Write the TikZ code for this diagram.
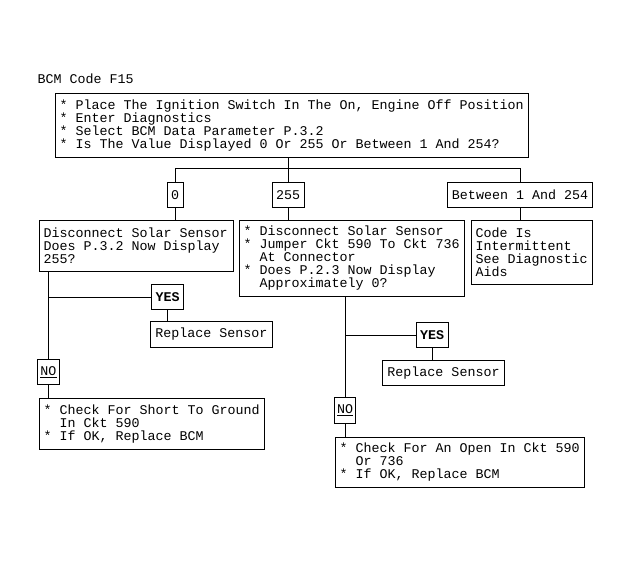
\documentclass[tikz,border=0pt]{standalone}
\usepackage{fontspec}
\setmonofont{Liberation Mono}
\newcommand{\contd}{\hspace*{1.2em}}
\begin{document}
\begin{tikzpicture}[x=0.75pt,y=0.75pt,yscale=-1,xscale=1,
    every node/.style={font=\ttfamily\fontsize{10}{9.75}\selectfont},
    box/.style={draw,anchor=north west,align=flush left,inner xsep=3pt,inner ysep=4pt},
    tag/.style={draw,inner xsep=3pt,minimum height=19pt},
    boldtag/.style={tag,font=\ttfamily\bfseries\fontsize{10}{9.75}\selectfont},
    line width=0.75pt]
    \useasboundingbox (0,0) rectangle (630,563);
    \node[anchor=base west,inner sep=0pt] (title) at (37,84) {BCM Code F15};
    \node[box,text width=348.75pt,minimum height=48pt] (main) at (55,93) {{*} Place The Ignition Switch In The On, Engine Off Position\\{*} Enter Diagnostics\\{*} Select BCM Data Parameter P.3.2\\{*} Is The Value Displayed 0 Or 255 Or Between 1 And 254?};
    % answers
    \node[tag] (v0) at (175,195) {0};
    \node[tag] (v255) at (288,195) {255};
    \node[tag,minimum width=108pt] (vbet) at (520,195) {Between 1 And 254};
    \draw (v255.north |- main.south) -- (v255.north);
    \draw (v0.north) -- ++(0,-13) -| (vbet.north);
    % second row
    \node[box,text width=139.5pt,minimum height=38.25pt] (chkA) at (39,220) {Disconnect Solar Sensor\\Does P.3.2 Now Display\\255?};
    \node[box,text width=162.5pt,minimum height=57pt] (chkB) at (239,220) {{*} Disconnect Solar Sensor\\{*} Jumper Ckt 590 To Ckt 736\\\contd At Connector\\{*} Does P.2.3 Now Display\\\contd Approximately 0?};
    \node[box,text width=84.75pt,minimum height=48pt] (interm) at (471,220) {Code Is\\Intermittent\\See Diagnostic\\Aids};
    \draw (v0.south) -- (v0.south |- chkA.north);
    \draw (v255.south) -- (v255.south |- chkB.north);
    \draw (vbet.south) -- (vbet.south |- interm.north);
    % left branch
    \node[boldtag] (yesA) at (167.5,297) {YES};
    \node[tag,inner xsep=3.4pt] (repA) at (211.5,334.5) {Replace Sensor};
    \node[tag,inner xsep=2pt] (noA) at (48.5,372) {\underline{NO}};
    \node[box,text width=162.5pt,minimum height=38.25pt] (fixA) at (39,398) {{*} Check For Short To Ground\\\contd In Ckt 590\\{*} If OK, Replace BCM};
    \draw (noA.north) -- (noA.north |- chkA.south);
    \draw (yesA.west) -- (yesA.west -| noA.north);
    \draw (yesA.south) -- (yesA.south |- repA.north);
    \draw (noA.south) -- (noA.south |- fixA.north);
    % right branch
    \node[boldtag] (yesB) at (432,335) {YES};
    \node[tag,inner xsep=3.4pt] (repB) at (443.5,373) {Replace Sensor};
    \node[tag,inner xsep=2pt] (noB) at (345,410.5) {\underline{NO}};
    \node[box,text width=180.5pt,minimum height=37.5pt] (fixB) at (335,437) {{*} Check For An Open In Ckt 590\\\contd Or 736\\{*} If OK, Replace BCM};
    \draw (noB.north) -- (noB.north |- chkB.south);
    \draw (yesB.west) -- (yesB.west -| noB.north);
    \draw (yesB.south) -- (yesB.south |- repB.north);
    \draw (noB.south) -- (noB.south |- fixB.north);
\end{tikzpicture}
\end{document}
